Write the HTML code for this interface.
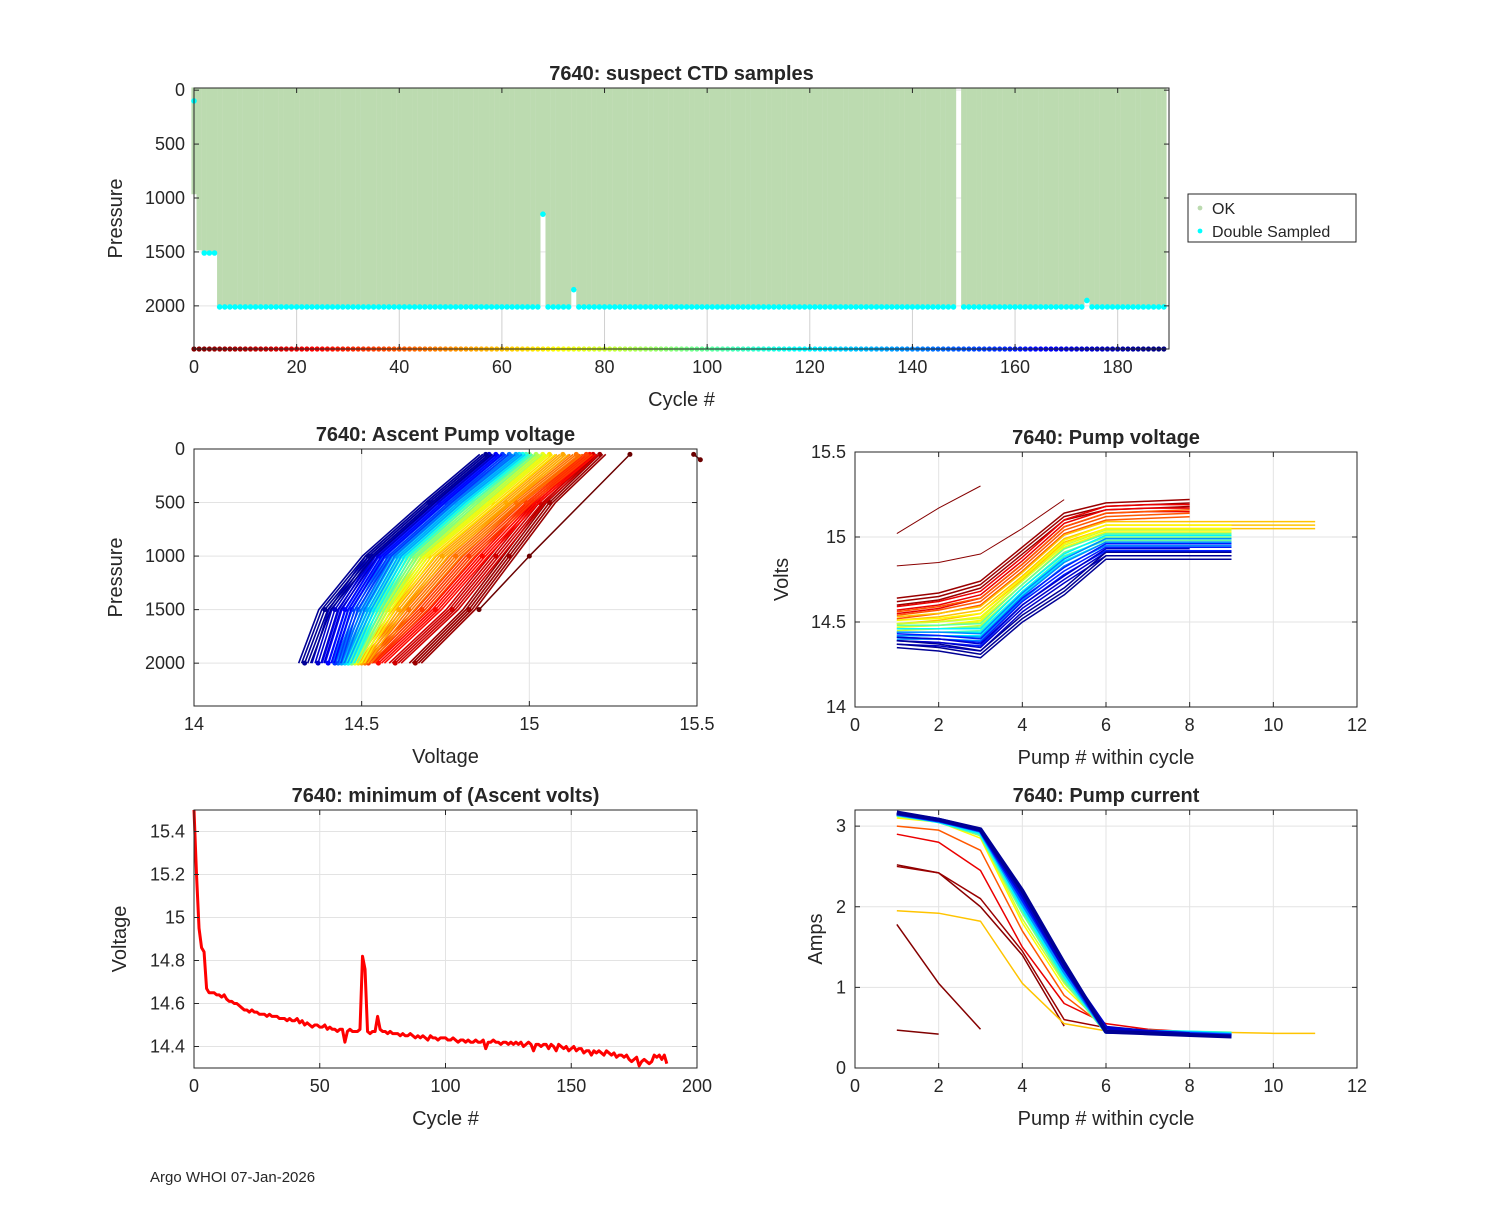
<!DOCTYPE html>
<html><head><meta charset="utf-8"><style>
body{margin:0;background:#fff;}
svg text{font-family:"Liberation Sans","DejaVu Sans",sans-serif;fill:#262626;}
</style></head><body>
<svg id="fig" width="1500" height="1200" xmlns="http://www.w3.org/2000/svg">
<rect width="1500" height="1200" fill="#fff"/>
<g id="root"></g>
<text x="150" y="1182" font-size="15" fill="#000">Argo WHOI 07-Jan-2026</text>
</svg>
<script>
// ---------- DATA ----------
const profMax = [
980,1500,1510,1510,1510,2010,2010,2010,2010,2010,
2010,2010,2010,2010,2010,2010,2010,2010,2010,2010,
2010,2010,2010,2010,2010,2010,2010,2010,2010,2010,
2010,2010,2010,2010,2010,2010,2010,2010,2010,2010,
2010,2010,2010,2010,2010,2010,2010,2010,2010,2010,
2010,2010,2010,2010,2010,2010,2010,2010,2010,2010,
2010,2010,2010,2010,2010,2010,2010,2010,1150,2010,
2010,2010,2010,2010,1850,2010,2010,2010,2010,2010,
2010,2010,2010,2010,2010,2010,2010,2010,2010,2010,
2010,2010,2010,2010,2010,2010,2010,2010,2010,2010,
2010,2010,2010,2010,2010,2010,2010,2010,2010,2010,
2010,2010,2010,2010,2010,2010,2010,2010,2010,2010,
2010,2010,2010,2010,2010,2010,2010,2010,2010,2010,
2010,2010,2010,2010,2010,2010,2010,2010,2010,2010,
2010,2010,2010,2010,2010,2010,2010,2010,2010,null,
2010,2010,2010,2010,2010,2010,2010,2010,2010,2010,
2010,2010,2010,2010,2010,2010,2010,2010,2010,2010,
2010,2010,2010,2010,1950,2010,2010,2010,2010,2010,
2010,2010,2010,2010,2010,2010,2010,2010,2010,2010];
const minVolts = [
15.5,15.2,14.95,14.86,14.84,14.67,14.65,14.65,14.65,14.64,
14.64,14.63,14.64,14.62,14.61,14.61,14.60,14.60,14.59,14.58,
14.57,14.57,14.56,14.57,14.56,14.56,14.55,14.55,14.55,14.54,
14.55,14.54,14.54,14.54,14.53,14.53,14.53,14.52,14.53,14.52,
14.52,14.53,14.51,14.52,14.50,14.51,14.50,14.49,14.50,14.50,
14.49,14.49,14.50,14.48,14.49,14.48,14.48,14.47,14.48,14.48,
14.42,14.47,14.48,14.47,14.47,14.47,14.48,14.82,14.76,14.47,
14.46,14.47,14.47,14.54,14.48,14.47,14.47,14.46,14.47,14.46,
14.46,14.46,14.45,14.46,14.45,14.45,14.46,14.45,14.44,14.45,
14.44,14.45,14.44,14.43,14.45,14.44,14.44,14.43,14.44,14.44,
14.44,14.43,14.43,14.44,14.43,14.42,14.43,14.43,14.42,14.43,
14.42,14.42,14.43,14.42,14.42,14.43,14.39,14.42,14.42,14.43,
14.42,14.42,14.41,14.42,14.42,14.41,14.42,14.41,14.42,14.41,
14.42,14.40,14.41,14.42,14.41,14.38,14.41,14.41,14.40,14.41,
14.41,14.39,14.41,14.40,14.38,14.41,14.40,14.39,14.40,14.38,
14.39,14.40,14.38,14.39,14.39,14.37,14.38,14.38,14.36,14.38,
14.37,14.38,14.37,14.36,14.38,14.37,14.36,14.37,14.35,14.36,
14.36,14.35,14.36,14.34,14.33,14.34,14.35,14.31,14.33,14.34,
14.33,14.32,14.33,14.36,14.35,14.36,14.34,14.36,14.32];
const ascentP = [2000,1500,1000,500,50];
const ascentCycles = [5,15,25,35,45,55,65,75,85,95,105,115,125,135,145,155,165,175,185];
const ascentV = [
[14.66,14.82,14.94,15.06,15.21],[14.60,14.77,14.90,15.03,15.19],[14.55,14.72,14.86,15.01,15.18],
[14.52,14.68,14.82,14.99,15.17],[14.51,14.64,14.78,14.96,15.14],[14.50,14.61,14.74,14.93,15.10],
[14.49,14.58,14.70,14.89,15.06],[14.48,14.57,14.68,14.87,15.04],[14.47,14.56,14.66,14.85,15.02],
[14.47,14.55,14.65,14.83,15.00],[14.46,14.54,14.63,14.81,14.99],[14.46,14.53,14.62,14.80,14.98],
[14.45,14.52,14.61,14.79,14.97],[14.44,14.51,14.60,14.78,14.96],[14.43,14.49,14.58,14.76,14.94],
[14.42,14.47,14.57,14.75,14.92],[14.40,14.45,14.55,14.73,14.90],[14.37,14.42,14.53,14.71,14.88],
[14.33,14.39,14.52,14.70,14.87]];
const pumpCycles = [0,1,2,5,20,40,60,70,80,100,120,140,160,175,185];
const pumpVolts = [
[15.50,15.50],[15.02,15.17,15.30],[14.83,14.85,14.90,15.05,15.22],
[14.62,14.65,14.72,14.92,15.12,15.18,15.19,15.20],[14.57,14.60,14.66,14.86,15.08,15.16,15.17,15.17],
[14.54,14.57,14.62,14.82,15.04,15.12,15.13,15.14],[14.51,14.53,14.57,14.77,14.99,15.07,15.07,15.07,15.07,15.07,15.07],
[14.49,14.50,14.53,14.74,14.96,15.05,15.05,15.05,15.05],[14.47,14.48,14.50,14.72,14.93,15.02,15.02,15.02,15.02],
[14.46,14.46,14.47,14.70,14.91,15.00,15.00,15.00,15.00],[14.44,14.44,14.44,14.68,14.88,14.99,14.99,14.99,14.99],
[14.42,14.42,14.41,14.65,14.85,14.97,14.97,14.97,14.97],[14.41,14.40,14.38,14.62,14.80,14.94,14.94,14.94,14.94],
[14.39,14.38,14.35,14.58,14.75,14.91,14.91,14.91],[14.37,14.35,14.31,14.52,14.68,14.89,14.89,14.89,14.89]];
const pumpAmps = [
[0.47,0.42],[1.78,1.05,0.48],[2.52,2.42,2.00,1.40,0.52],
[2.50,2.42,2.10,1.45,0.60,0.50,0.47,0.45],[2.90,2.80,2.45,1.50,0.80,0.55,0.48,0.45],
[3.00,2.95,2.70,1.70,0.90,0.50,0.47,0.45],[1.95,1.92,1.82,1.05,0.55,0.46,0.45,0.45,0.44,0.43,0.43],
[3.10,3.05,2.85,1.80,1.00,0.50,0.46,0.45,0.44],[3.12,3.05,2.88,1.85,1.05,0.48,0.46,0.45,0.44],
[3.14,3.06,2.90,1.95,1.10,0.45,0.45,0.44,0.43],[3.15,3.06,2.92,2.00,1.15,0.46,0.45,0.44,0.42],
[3.15,3.07,2.94,2.05,1.20,0.45,0.45,0.43,0.41],[3.16,3.07,2.95,2.10,1.25,0.45,0.44,0.42,0.40],
[3.16,3.08,2.95,2.15,1.25,0.50,0.45,0.42],[3.17,3.08,2.96,2.20,1.30,0.45,0.43,0.41,0.39]];
const xTicksTop=[0,20,40,60,80,100,120,140,160,180];
const yTicksP=[0,500,1000,1500,2000];

// ---------- HELPERS ----------
const NS="http://www.w3.org/2000/svg";
const root=document.getElementById('root');
function mk(tag,at,parent){const e=document.createElementNS(NS,tag);for(const k in at)e.setAttribute(k,at[k]);(parent||root).appendChild(e);return e;}
function jet(t){const c=v=>Math.round(255*Math.max(0,Math.min(1,v)));return `rgb(${c(1.5-Math.abs(4*t-3))},${c(1.5-Math.abs(4*t-2))},${c(1.5-Math.abs(4*t-1))})`;}
function cyc(c){return jet(1-c/189);}
function axes(name,x0,x1,y0,y1,xmin,xmax,ymin,ymax,rev,xt,yt,grid,title,xl,yl){
  const g=mk('g',{});
  
  
  const sx=v=>x0+(v-xmin)/(xmax-xmin)*(x1-x0);
  const sy=rev?(v=>y0+(v-ymin)/(ymax-ymin)*(y1-y0)):(v=>y1-(v-ymin)/(ymax-ymin)*(y1-y0));
  mk('rect',{x:x0,y:y0,width:x1-x0,height:y1-y0,fill:'#fff'},g);
  if(grid){xt.forEach(v=>mk('line',{x1:sx(v),x2:sx(v),y1:y0,y2:y1,stroke:'#e3e3e3','stroke-width':1},g));
    yt.forEach(v=>mk('line',{x1:x0,x2:x1,y1:sy(v),y2:sy(v),stroke:'#e3e3e3','stroke-width':1},g));}
  const plot=mk('g',{},g);
  const fr=mk('g',{},g);
  return {g,plot,fr,sx,sy,finish(){
    mk('rect',{x:x0,y:y0,width:x1-x0,height:y1-y0,fill:'none',stroke:'#262626','stroke-width':1},fr);
    xt.forEach(v=>{mk('line',{x1:sx(v),x2:sx(v),y1:y1,y2:y1-5,stroke:'#262626'},fr);mk('line',{x1:sx(v),x2:sx(v),y1:y0,y2:y0+5,stroke:'#262626'},fr);
      const t=mk('text',{x:sx(v),y:y1+24,'font-size':18,'text-anchor':'middle'},fr);t.textContent=v;
      
      });
    yt.forEach(v=>{mk('line',{x1:x0,x2:x0+5,y1:sy(v),y2:sy(v),stroke:'#262626'},fr);mk('line',{x1:x1,x2:x1-5,y1:sy(v),y2:sy(v),stroke:'#262626'},fr);
      const t=mk('text',{x:x0-9,y:sy(v)+6,'font-size':18,'text-anchor':'end'},fr);t.textContent=v;
      
      });
    const tt=mk('text',{x:(x0+x1)/2,y:y0-8,'font-size':20,'font-weight':'bold','text-anchor':'middle',fill:'#000'},fr);tt.textContent=title;
    
    
    const xa=mk('text',{x:(x0+x1)/2,y:y1+57,'font-size':20,'text-anchor':'middle'},fr);xa.textContent=xl;
    
    
    const ya=mk('text',{x:0,y:0,'font-size':20,'text-anchor':'middle',transform:`translate(${yl[1]},${(y0+y1)/2}) rotate(-90)`},fr);ya.textContent=yl[0];
    
    
  }};
}
function poly(a,pts,col,w){return mk('polyline',{points:pts.map(p=>p.join(',')).join(' '),fill:'none',stroke:col,'stroke-width':w,'stroke-linejoin':'round'},a.plot);}

// ---------- TOP PANEL ----------
const A=axes('suspect-ctd-chart',194,1169,88,349,0,190,-20,2400,true,xTicksTop,yTicksP,false,'7640: suspect CTD samples','Cycle #',['Pressure',122]);
xTicksTop.forEach(v=>mk('line',{x1:A.sx(v),x2:A.sx(v),y1:88,y2:349,stroke:'#d0d0d0'},A.plot));
yTicksP.forEach(v=>mk('line',{x1:194,x2:1169,y1:A.sy(v),y2:A.sy(v),stroke:'#e3e3e3'},A.plot));
profMax.forEach((p,i)=>{if(p==null)return;
  const r=mk('rect',{x:A.sx(i)-2.6,y:A.sy(-25),width:5.3,height:A.sy(p-15)-A.sy(-25),fill:'#bcdbb0'},A.plot);
  
  });
profMax.forEach((p,i)=>{if(p==null||i==1)return;
  const pp=i==0?100:p;
  const d=mk('circle',{cx:A.sx(i),cy:A.sy(pp),r:2.8,fill:'#00ffff'},A.plot);
  
  });
profMax.forEach((p,i)=>{
  const d=mk('circle',{cx:A.sx(i),cy:A.sy(2400),r:2.6,fill:cyc(i)},A.plot);
  
  });
A.finish();
const L=mk('g',{});


mk('rect',{x:1188,y:194,width:168,height:48,fill:'#fff',stroke:'#262626'},L);
mk('circle',{cx:1200,cy:208,r:2.4,fill:'#bcdbb0'},L);
mk('circle',{cx:1200,cy:231,r:2.4,fill:'#00ffff'},L);
let t1=mk('text',{x:1212,y:214,'font-size':16,fill:'#000'},L);t1.textContent='OK';


let t2=mk('text',{x:1212,y:237,'font-size':16,fill:'#000'},L);t2.textContent='Double Sampled';



// ---------- ASCENT PUMP VOLTAGE ----------
const B=axes('ascent-pump-voltage-chart',194,697,449,706,14,15.5,0,2400,true,[14,14.5,15,15.5],yTicksP,true,'7640: Ascent Pump voltage','Voltage',['Pressure',122]);
ascentCycles.forEach((c,k)=>{
  const pts=ascentV[k].map((v,j)=>[B.sx(v),B.sy(ascentP[j])]);
  for(let o=-2;o<=2;o++){const pl=poly(B,pts.map(p=>[p[0]+o*3,p[1]]),cyc(c),1.6);
    
    }
  pts.forEach(p=>mk('circle',{cx:p[0],cy:p[1],r:2.5,fill:cyc(c)},B.plot));
});
const oddV=[[14.85,15.0,15.3],[15.49,15.51]],oddP=[[1500,1000,50],[50,100]];
oddV.forEach((vs,k)=>{const pts=vs.map((v,j)=>[B.sx(v),B.sy(oddP[k][j])]);poly(B,pts,'#6b0000',1.5);pts.forEach(p=>mk('circle',{cx:p[0],cy:p[1],r:2.5,fill:'#6b0000'},B.plot));});
B.finish();

// ---------- PUMP VOLTAGE ----------
const C=axes('pump-voltage-chart',855,1357,452,707,0,12,14,15.5,false,[0,2,4,6,8,10,12],[14,14.5,15,15.5],true,'7640: Pump voltage','Pump # within cycle',['Volts',788]);
pumpCycles.forEach((c,k)=>{
  const pts=pumpVolts[k].map((v,j)=>[C.sx(j+1),C.sy(v)]);
  const n=c<3?0:1;
  for(let o=-n;o<=n;o++){const pl=poly(C,pts.map(p=>[p[0],p[1]+o*3.5]),cyc(c),c<3?1:1.5);
    
    }
});
C.finish();

// ---------- MIN ASCENT VOLTS ----------
const D=axes('min-ascent-volts-chart',194,697,810,1068,0,200,14.3,15.5,false,[0,50,100,150,200],[14.4,14.6,14.8,15,15.2,15.4],true,'7640: minimum of (Ascent volts)','Cycle #',['Voltage',126]);
const ml=poly(D,minVolts.map((v,i)=>[D.sx(i),D.sy(v)]),'#ff0000',3);


D.finish();

// ---------- PUMP CURRENT ----------
const E=axes('pump-current-chart',855,1357,810,1068,0,12,0,3.2,false,[0,2,4,6,8,10,12],[0,1,2,3],true,'7640: Pump current','Pump # within cycle',['Amps',822]);
pumpCycles.forEach((c,k)=>{
  const pts=pumpAmps[k].map((v,j)=>[E.sx(j+1),E.sy(v)]);
  const pl=poly(E,pts,cyc(c),c>=100?4:1.5);
  
  
});
E.finish();
</script>
</body></html>
